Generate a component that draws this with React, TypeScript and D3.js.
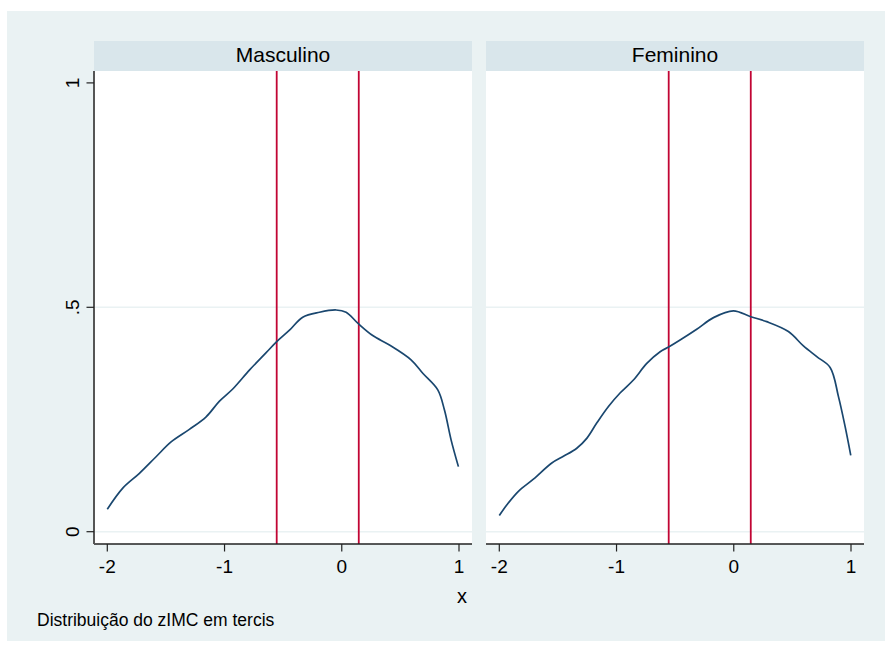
import * as d3 from 'd3';

// density curves (x = zIMC, y = density)
const mascX = [-2.0, -1.868, -1.726, -1.584, -1.456, -1.30, -1.157, -1.043, -0.93, -0.788, -0.645, -0.557, -0.446, -0.333, -0.19, -0.048, 0.037, 0.139, 0.264, 0.407, 0.591, 0.691, 0.819, 0.876, 0.933, 0.995];
const mascY = [0.05, 0.097, 0.13, 0.167, 0.2, 0.228, 0.256, 0.291, 0.318, 0.36, 0.399, 0.423, 0.449, 0.478, 0.489, 0.494, 0.489, 0.464, 0.437, 0.416, 0.383, 0.353, 0.316, 0.271, 0.204, 0.145];
const femX = [-2.0, -1.935, -1.837, -1.709, -1.552, -1.453, -1.339, -1.254, -1.169, -1.069, -0.97, -0.856, -0.742, -0.628, -0.552, -0.458, -0.316, -0.173, -0.003, 0.145, 0.281, 0.466, 0.594, 0.708, 0.822, 0.893, 0.95, 0.998];
const femY = [0.036, 0.06, 0.09, 0.117, 0.153, 0.168, 0.186, 0.208, 0.242, 0.279, 0.309, 0.338, 0.375, 0.401, 0.412, 0.427, 0.451, 0.477, 0.492, 0.479, 0.468, 0.446, 0.414, 0.39, 0.366, 0.301, 0.234, 0.17];

const panelLabels = ['Masculino', 'Feminino'];
const tercilCuts = [-0.555, 0.145];
const xTicks = [-2, -1, 0, 1];
const yTicks = [0, 0.5, 1];
const yTickLabels = ['0', '.5', '1'];
const yGrid = [0, 0.5];

const FONT = 'Liberation Sans, Arial, Helvetica, sans-serif';
const BG = '#eaf2f3';
const STRIP = '#d9e6eb';
const NAVY = '#1a476f';
const RED = '#c10534';

const panels = [
  { label: panelLabels[0], xs: mascX, ys: mascY, left: 94, right: 472 },
  { label: panelLabels[1], xs: femX, ys: femY, left: 486, right: 864 },
];

const plotTop = 71;
const plotBottom = 544;
const stripTop = 41;

export default function App() {
  const y = d3.scaleLinear().domain([0, 1]).range([531.7, 82.9]);

  return (
    <svg width={885} height={651} style={{ position: 'absolute', left: 0, top: 0 }} fontFamily={FONT}>
      <rect x={0} y={0} width={885} height={651} fill="#ffffff" />
      <rect x={7} y={11} width={878} height={630} fill={BG} />

      {panels.map((p, i) => {
        const x = d3.scaleLinear().domain([-2, 1]).range([p.left + 13.3, p.right - 13]);
        const pts = p.xs.map((v, j) => [v, p.ys[j]] as [number, number]);
        const line = d3.line<[number, number]>()
          .x(d => x(d[0]))
          .y(d => y(d[1]))
          .curve(d3.curveCatmullRom.alpha(0.5));
        const cx = (p.left + p.right) / 2;
        return (
          <g key={i}>
            {/* strip header */}
            <rect x={p.left} y={stripTop} width={p.right - p.left} height={plotTop - stripTop} fill={STRIP} />
            <text x={cx} y={62.3} textAnchor="middle" fontSize={21} fill="#000">{p.label}</text>

            {/* plot region */}
            <rect x={p.left} y={plotTop} width={p.right - p.left} height={plotBottom - plotTop} fill="#ffffff" />
            {yGrid.map(g => (
              <line key={g} x1={p.left} x2={p.right} y1={y(g)} y2={y(g)} stroke={BG} strokeWidth={1.5} />
            ))}

            {tercilCuts.map(c => (
              <line key={c} x1={x(c)} x2={x(c)} y1={plotTop} y2={plotBottom} stroke={RED} strokeWidth={1.8} />
            ))}

            <path d={line(pts) || ''} fill="none" stroke={NAVY} strokeWidth={1.7} strokeLinejoin="round" />

            {/* x axis */}
            <line x1={p.left} x2={p.right} y1={plotBottom} y2={plotBottom} stroke="#222" strokeWidth={1.5} />
            {xTicks.map(t => (
              <g key={t}>
                <line x1={x(t)} x2={x(t)} y1={plotBottom} y2={plotBottom + 7.5} stroke="#222" strokeWidth={1.2} />
                <text x={x(t)} y={573} textAnchor="middle" fontSize={19} fill="#000">{t}</text>
              </g>
            ))}

            {/* y axis only on first panel */}
            {i === 0 && (
              <g>
                <line x1={p.left} x2={p.left} y1={plotTop} y2={plotBottom} stroke="#555" strokeWidth={2} />
                {yTicks.map((t, k) => (
                  <g key={t}>
                    <line x1={p.left - 7.5} x2={p.left} y1={y(t)} y2={y(t)} stroke="#222" strokeWidth={1.2} />
                    <text transform={`translate(79.3,${y(t)}) rotate(-90)`} textAnchor="middle" fontSize={19} fill="#000">{yTickLabels[k]}</text>
                  </g>
                ))}
              </g>
            )}
          </g>
        );
      })}

      <text x={467} y={603} textAnchor="end" fontSize={20} fill="#000">x</text>
      <text x={37} y={626} fontSize={17.5} fill="#000">Distribuição do zIMC em tercis</text>
    </svg>
  );
}
